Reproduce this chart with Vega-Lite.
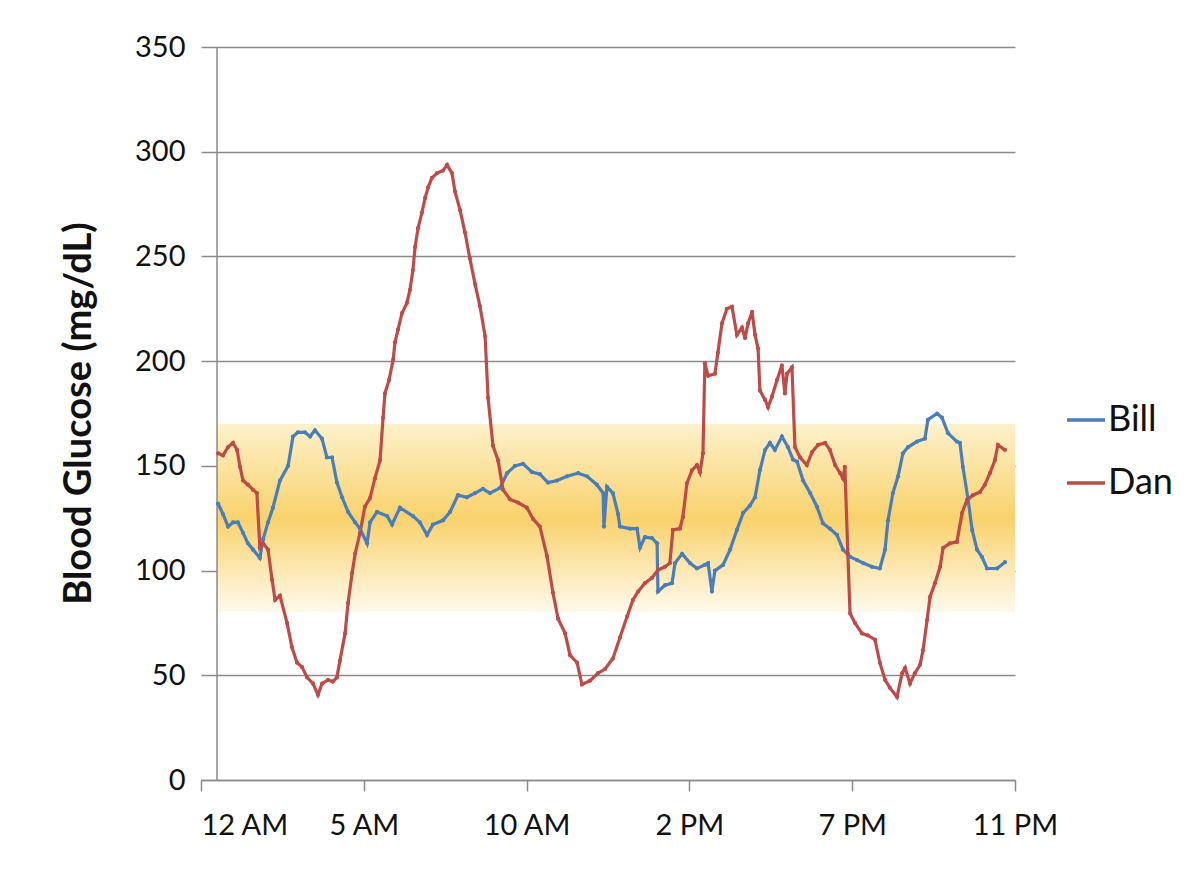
{
  "$schema": "https://vega.github.io/schema/vega-lite/v6.json",
  "width": 814,
  "height": 733,
  "autosize": {"type": "none"},
  "padding": {"left": 201, "top": 47, "right": 177, "bottom": 93},
  "background": "white",
  "config": {"view": {"stroke": null}, "font": "Lato"},
  "layer": [
    {
      "data": {"values": [{"low": 80, "high": 170}]},
      "mark": {
        "type": "rect",
        "color": {
          "gradient": "linear",
          "x1": 0, "y1": 0, "x2": 0, "y2": 1,
          "stops": [
            {"offset": 0, "color": "#fdf1cb"},
            {"offset": 0.5, "color": "#f9d26c"},
            {"offset": 1, "color": "#fffaee"}
          ]
        }
      },
      "encoding": {
        "x": {"datum": 5.9, "type": "quantitative"},
        "x2": {"datum": 300},
        "y": {"field": "high", "type": "quantitative"},
        "y2": {"field": "low"}
      }
    },
    {
      "data": {"values": [{"axis": "y"}]},
      "mark": {"type": "rule", "color": "#8a8a8a", "strokeWidth": 1.5},
      "encoding": {"x": {"datum": 5.9, "type": "quantitative"}}
    },
    {
      "data": {
        "values": [
          {"series":"Bill","sample":6.3,"glucose":132},{"series":"Bill","sample":8.1,"glucose":127},{"series":"Bill","sample":10.0,"glucose":121},{"series":"Bill","sample":11.8,"glucose":123},{"series":"Bill","sample":13.6,"glucose":123},{"series":"Bill","sample":15.5,"glucose":118},{"series":"Bill","sample":17.3,"glucose":113},{"series":"Bill","sample":19.2,"glucose":110},{"series":"Bill","sample":21.7,"glucose":106},{"series":"Bill","sample":22.9,"glucose":115},{"series":"Bill","sample":24.7,"glucose":123},{"series":"Bill","sample":26.5,"glucose":130},{"series":"Bill","sample":29.1,"glucose":143},{"series":"Bill","sample":32.1,"glucose":150},{"series":"Bill","sample":33.9,"glucose":164},{"series":"Bill","sample":35.7,"glucose":166},{"series":"Bill","sample":38.3,"glucose":166},{"series":"Bill","sample":40.2,"glucose":164},{"series":"Bill","sample":42.0,"glucose":167},{"series":"Bill","sample":44.6,"glucose":163},{"series":"Bill","sample":46.4,"glucose":154},{"series":"Bill","sample":48.3,"glucose":154},{"series":"Bill","sample":50.1,"glucose":142},{"series":"Bill","sample":52.0,"glucose":135},{"series":"Bill","sample":54.2,"glucose":128},{"series":"Bill","sample":56.8,"glucose":123},{"series":"Bill","sample":58.6,"glucose":120},{"series":"Bill","sample":61.2,"glucose":113},{"series":"Bill","sample":62.3,"glucose":123},{"series":"Bill","sample":64.9,"glucose":128},{"series":"Bill","sample":68.6,"glucose":126},{"series":"Bill","sample":70.4,"glucose":122},{"series":"Bill","sample":73.3,"glucose":130},{"series":"Bill","sample":78.1,"glucose":126},{"series":"Bill","sample":80.7,"glucose":123},{"series":"Bill","sample":83.3,"glucose":117},{"series":"Bill","sample":85.5,"glucose":122},{"series":"Bill","sample":89.2,"glucose":124},{"series":"Bill","sample":91.8,"glucose":128},{"series":"Bill","sample":94.7,"glucose":136},{"series":"Bill","sample":98.0,"glucose":135},{"series":"Bill","sample":101.0,"glucose":137},{"series":"Bill","sample":103.9,"glucose":139},{"series":"Bill","sample":106.5,"glucose":137},{"series":"Bill","sample":110.2,"glucose":139.5},{"series":"Bill","sample":112.8,"glucose":146.5},{"series":"Bill","sample":115.7,"glucose":150},{"series":"Bill","sample":118.7,"glucose":151},{"series":"Bill","sample":122.0,"glucose":147},{"series":"Bill","sample":124.9,"glucose":146},{"series":"Bill","sample":127.9,"glucose":142},{"series":"Bill","sample":131.2,"glucose":143},{"series":"Bill","sample":134.9,"glucose":145},{"series":"Bill","sample":139.0,"glucose":146.5},{"series":"Bill","sample":142.3,"glucose":145},{"series":"Bill","sample":145.9,"glucose":141},{"series":"Bill","sample":148.2,"glucose":137},{"series":"Bill","sample":148.5,"glucose":121},{"series":"Bill","sample":149.6,"glucose":140},{"series":"Bill","sample":151.8,"glucose":137},{"series":"Bill","sample":153.7,"glucose":127},{"series":"Bill","sample":154.4,"glucose":121},{"series":"Bill","sample":158.1,"glucose":120},{"series":"Bill","sample":160.7,"glucose":120},{"series":"Bill","sample":161.8,"glucose":111},{"series":"Bill","sample":163.6,"glucose":116},{"series":"Bill","sample":166.2,"glucose":115.5},{"series":"Bill","sample":168.1,"glucose":113},{"series":"Bill","sample":168.4,"glucose":90},{"series":"Bill","sample":171.0,"glucose":93},{"series":"Bill","sample":173.6,"glucose":94},{"series":"Bill","sample":174.7,"glucose":103.6},{"series":"Bill","sample":177.3,"glucose":108},{"series":"Bill","sample":180.2,"glucose":103.6},{"series":"Bill","sample":182.8,"glucose":101},{"series":"Bill","sample":185.7,"glucose":102.7},{"series":"Bill","sample":186.9,"glucose":103.6},{"series":"Bill","sample":188.3,"glucose":90},{"series":"Bill","sample":189.4,"glucose":100},{"series":"Bill","sample":192.4,"glucose":102.7},{"series":"Bill","sample":195.0,"glucose":110},{"series":"Bill","sample":197.5,"glucose":119.4},{"series":"Bill","sample":199.8,"glucose":127.5},{"series":"Bill","sample":202.3,"glucose":131},{"series":"Bill","sample":204.2,"glucose":135},{"series":"Bill","sample":206.0,"glucose":148},{"series":"Bill","sample":207.9,"glucose":157.6},{"series":"Bill","sample":209.7,"glucose":161},{"series":"Bill","sample":211.5,"glucose":157.6},{"series":"Bill","sample":214.1,"glucose":164},{"series":"Bill","sample":216.3,"glucose":159},{"series":"Bill","sample":218.2,"glucose":153},{"series":"Bill","sample":219.7,"glucose":152},{"series":"Bill","sample":221.9,"glucose":143},{"series":"Bill","sample":224.5,"glucose":137},{"series":"Bill","sample":227.0,"glucose":130.5},{"series":"Bill","sample":229.2,"glucose":122.6},{"series":"Bill","sample":231.8,"glucose":120},{"series":"Bill","sample":234.4,"glucose":117},{"series":"Bill","sample":236.6,"glucose":110},{"series":"Bill","sample":239.2,"glucose":106.6},{"series":"Bill","sample":241.8,"glucose":105},{"series":"Bill","sample":244.0,"glucose":103.6},{"series":"Bill","sample":247.3,"glucose":101.8},{"series":"Bill","sample":250.2,"glucose":101},{"series":"Bill","sample":252.1,"glucose":110},{"series":"Bill","sample":253.2,"glucose":124},{"series":"Bill","sample":255.0,"glucose":137},{"series":"Bill","sample":256.9,"glucose":145},{"series":"Bill","sample":258.7,"glucose":156},{"series":"Bill","sample":260.6,"glucose":159},{"series":"Bill","sample":263.9,"glucose":161.6},{"series":"Bill","sample":266.8,"glucose":163},{"series":"Bill","sample":267.9,"glucose":172},{"series":"Bill","sample":271.3,"glucose":175},{"series":"Bill","sample":273.1,"glucose":173},{"series":"Bill","sample":275.3,"glucose":165.6},{"series":"Bill","sample":278.6,"glucose":161.6},{"series":"Bill","sample":279.7,"glucose":161},{"series":"Bill","sample":280.8,"glucose":149.5},{"series":"Bill","sample":282.7,"glucose":134},{"series":"Bill","sample":284.2,"glucose":119.4},{"series":"Bill","sample":286.0,"glucose":110},{"series":"Bill","sample":287.8,"glucose":106.6},{"series":"Bill","sample":289.7,"glucose":101},{"series":"Bill","sample":293.4,"glucose":101},{"series":"Bill","sample":296.3,"glucose":104},
          {"series":"Dan","sample":6.3,"glucose":156},{"series":"Dan","sample":8.1,"glucose":155},{"series":"Dan","sample":10.0,"glucose":159},{"series":"Dan","sample":11.8,"glucose":161},{"series":"Dan","sample":13.3,"glucose":157.6},{"series":"Dan","sample":14.4,"glucose":149.5},{"series":"Dan","sample":15.5,"glucose":143},{"series":"Dan","sample":17.3,"glucose":141},{"series":"Dan","sample":19.2,"glucose":138.5},{"series":"Dan","sample":20.6,"glucose":137},{"series":"Dan","sample":21.7,"glucose":111},{"series":"Dan","sample":22.9,"glucose":113},{"series":"Dan","sample":24.7,"glucose":110},{"series":"Dan","sample":26.2,"glucose":95.5},{"series":"Dan","sample":27.3,"glucose":86},{"series":"Dan","sample":29.1,"glucose":88},{"series":"Dan","sample":31.7,"glucose":75},{"series":"Dan","sample":33.5,"glucose":63.5},{"series":"Dan","sample":35.4,"glucose":56},{"series":"Dan","sample":37.2,"glucose":54},{"series":"Dan","sample":39.1,"glucose":49},{"series":"Dan","sample":41.3,"glucose":46},{"series":"Dan","sample":43.1,"glucose":40.6},{"series":"Dan","sample":44.6,"glucose":46},{"series":"Dan","sample":46.8,"glucose":47.8},{"series":"Dan","sample":48.6,"glucose":47},{"series":"Dan","sample":50.1,"glucose":49},{"series":"Dan","sample":51.2,"glucose":57},{"series":"Dan","sample":53.1,"glucose":70},{"series":"Dan","sample":54.2,"glucose":84.5},{"series":"Dan","sample":55.7,"glucose":98.8},{"series":"Dan","sample":56.8,"glucose":108},{"series":"Dan","sample":58.6,"glucose":118},{"series":"Dan","sample":60.4,"glucose":130.5},{"series":"Dan","sample":62.3,"glucose":134.6},{"series":"Dan","sample":64.1,"glucose":144},{"series":"Dan","sample":66.0,"glucose":152.8},{"series":"Dan","sample":67.1,"glucose":173},{"series":"Dan","sample":67.8,"glucose":184.6},{"series":"Dan","sample":69.3,"glucose":191},{"series":"Dan","sample":70.8,"glucose":200.6},{"series":"Dan","sample":71.5,"glucose":209},{"series":"Dan","sample":72.6,"glucose":215},{"series":"Dan","sample":74.1,"glucose":223},{"series":"Dan","sample":75.9,"glucose":227.8},{"series":"Dan","sample":77.0,"glucose":234},{"series":"Dan","sample":78.1,"glucose":243.5},{"series":"Dan","sample":78.9,"glucose":254.5},{"series":"Dan","sample":80.0,"glucose":263.6},{"series":"Dan","sample":81.4,"glucose":270.8},{"series":"Dan","sample":82.6,"glucose":278},{"series":"Dan","sample":83.7,"glucose":283},{"series":"Dan","sample":85.1,"glucose":287.5},{"series":"Dan","sample":87.0,"glucose":289.8},{"series":"Dan","sample":89.2,"glucose":291},{"series":"Dan","sample":90.7,"glucose":293.7},{"series":"Dan","sample":92.5,"glucose":289.8},{"series":"Dan","sample":93.6,"glucose":281},{"series":"Dan","sample":95.5,"glucose":272},{"series":"Dan","sample":97.3,"glucose":261.4},{"series":"Dan","sample":99.1,"glucose":249},{"series":"Dan","sample":101.0,"glucose":236.8},{"series":"Dan","sample":102.8,"glucose":226.3},{"series":"Dan","sample":104.7,"glucose":212},{"series":"Dan","sample":105.8,"glucose":182.5},{"series":"Dan","sample":107.6,"glucose":159.6},{"series":"Dan","sample":109.5,"glucose":152.6},{"series":"Dan","sample":111.3,"glucose":138.6},{"series":"Dan","sample":113.9,"glucose":134},{"series":"Dan","sample":116.8,"glucose":132.5},{"series":"Dan","sample":120.1,"glucose":130},{"series":"Dan","sample":122.4,"glucose":124.6},{"series":"Dan","sample":124.9,"glucose":121},{"series":"Dan","sample":127.5,"glucose":107},{"series":"Dan","sample":129.7,"glucose":89.5},{"series":"Dan","sample":131.6,"glucose":77},{"series":"Dan","sample":134.2,"glucose":70},{"series":"Dan","sample":136.0,"glucose":59.6},{"series":"Dan","sample":138.6,"glucose":56},{"series":"Dan","sample":140.4,"glucose":45.6},{"series":"Dan","sample":143.4,"glucose":47.4},{"series":"Dan","sample":146.3,"glucose":51},{"series":"Dan","sample":148.9,"glucose":53},{"series":"Dan","sample":151.8,"glucose":58},{"series":"Dan","sample":154.4,"glucose":68},{"series":"Dan","sample":157.0,"glucose":78},{"series":"Dan","sample":159.2,"glucose":86},{"series":"Dan","sample":161.1,"glucose":90},{"series":"Dan","sample":163.6,"glucose":94},{"series":"Dan","sample":166.2,"glucose":96.5},{"series":"Dan","sample":168.4,"glucose":100.3},{"series":"Dan","sample":171.0,"glucose":101.8},{"series":"Dan","sample":172.8,"glucose":103.6},{"series":"Dan","sample":173.9,"glucose":119.4},{"series":"Dan","sample":176.5,"glucose":120},{"series":"Dan","sample":177.6,"glucose":125.6},{"series":"Dan","sample":179.1,"glucose":141.8},{"series":"Dan","sample":181.0,"glucose":148},{"series":"Dan","sample":182.8,"glucose":150.4},{"series":"Dan","sample":183.9,"glucose":147},{"series":"Dan","sample":185.0,"glucose":156},{"series":"Dan","sample":185.7,"glucose":199},{"series":"Dan","sample":186.9,"glucose":193},{"series":"Dan","sample":189.4,"glucose":194},{"series":"Dan","sample":190.5,"glucose":204},{"series":"Dan","sample":192.0,"glucose":218},{"series":"Dan","sample":193.8,"glucose":225},{"series":"Dan","sample":195.7,"glucose":226},{"series":"Dan","sample":197.5,"glucose":212.5},{"series":"Dan","sample":199.4,"glucose":216},{"series":"Dan","sample":200.5,"glucose":211},{"series":"Dan","sample":201.6,"glucose":218},{"series":"Dan","sample":203.1,"glucose":223.5},{"series":"Dan","sample":204.2,"glucose":212.5},{"series":"Dan","sample":205.3,"glucose":206},{"series":"Dan","sample":206.0,"glucose":186},{"series":"Dan","sample":207.9,"glucose":181.5},{"series":"Dan","sample":209.0,"glucose":178},{"series":"Dan","sample":210.4,"glucose":183},{"series":"Dan","sample":212.3,"glucose":191},{"series":"Dan","sample":214.1,"glucose":198},{"series":"Dan","sample":215.2,"glucose":184.6},{"series":"Dan","sample":216.0,"glucose":194},{"series":"Dan","sample":217.8,"glucose":197},{"series":"Dan","sample":218.9,"glucose":159},{"series":"Dan","sample":220.8,"glucose":154},{"series":"Dan","sample":223.3,"glucose":150.4},{"series":"Dan","sample":225.2,"glucose":156.6},{"series":"Dan","sample":227.4,"glucose":160},{"series":"Dan","sample":230.0,"glucose":161},{"series":"Dan","sample":231.8,"glucose":157.6},{"series":"Dan","sample":233.7,"glucose":150.4},{"series":"Dan","sample":235.5,"glucose":146.6},{"series":"Dan","sample":236.6,"glucose":144},{"series":"Dan","sample":237.3,"glucose":149.5},{"series":"Dan","sample":238.4,"glucose":108},{"series":"Dan","sample":239.2,"glucose":79.6},{"series":"Dan","sample":241.0,"glucose":75},{"series":"Dan","sample":243.6,"glucose":70},{"series":"Dan","sample":245.8,"glucose":69},{"series":"Dan","sample":248.4,"glucose":67},{"series":"Dan","sample":250.2,"glucose":56},{"series":"Dan","sample":252.1,"glucose":47.8},{"series":"Dan","sample":253.9,"glucose":44},{"series":"Dan","sample":256.5,"glucose":39.6},{"series":"Dan","sample":258.4,"glucose":51},{"series":"Dan","sample":259.5,"glucose":53.5},{"series":"Dan","sample":261.3,"glucose":46},{"series":"Dan","sample":263.1,"glucose":51},{"series":"Dan","sample":265.0,"glucose":55},{"series":"Dan","sample":266.1,"glucose":62},{"series":"Dan","sample":267.6,"glucose":76.4},{"series":"Dan","sample":268.7,"glucose":87.4},{"series":"Dan","sample":270.5,"glucose":94},{"series":"Dan","sample":272.4,"glucose":101.8},{"series":"Dan","sample":273.5,"glucose":110.8},{"series":"Dan","sample":276.0,"glucose":113},{"series":"Dan","sample":278.6,"glucose":113.7},{"series":"Dan","sample":280.5,"glucose":127.5},{"series":"Dan","sample":282.3,"glucose":133.7},{"series":"Dan","sample":284.5,"glucose":136},{"series":"Dan","sample":287.1,"glucose":137.5},{"series":"Dan","sample":288.9,"glucose":141},{"series":"Dan","sample":290.8,"glucose":146.6},{"series":"Dan","sample":292.6,"glucose":152.8},{"series":"Dan","sample":293.7,"glucose":160},{"series":"Dan","sample":296.3,"glucose":157.6}
        ]
      },
      "mark": {"type": "line", "strokeWidth": 3.2, "point": {"filled": true, "size": 18}},
      "encoding": {
        "x": {
          "field": "sample",
          "type": "quantitative",
          "scale": {"domain": [0, 300], "nice": false, "zero": false},
          "axis": {
            "title": null,
            "grid": false,
            "values": [0, 60, 120, 180, 240, 300],
            "labelExpr": "['12 AM','5 AM','10 AM','2 PM','7 PM','11 PM'][round(datum.value/60)]",
            "labelAlign": {"expr": "datum.value == 0 ? 'left' : 'center'"},
            "labelFlush": false,
            "labelFont": "Lato",
            "labelFontSize": 29,
            "labelColor": "#111111",
            "labelPadding": 20,
            "domainColor": "#8a8a8a",
            "domainWidth": 1.5,
            "tickColor": "#8a8a8a",
            "tickWidth": 1.5,
            "tickSize": 11
          }
        },
        "y": {
          "field": "glucose",
          "type": "quantitative",
          "scale": {"domain": [0, 350], "nice": false},
          "axis": {
            "title": "Blood Glucose (mg/dL)",
            "titleFont": "Lato",
            "titleFontSize": 38,
            "titleFontWeight": "bold",
            "titleColor": "#111111",
            "titleX": -122,
            "titleY": 366,
            "titleAngle": -90,
            "titleAlign": "center",
            "titleBaseline": "middle",
            "values": [0, 50, 100, 150, 200, 250, 300, 350],
            "domain": false,
            "ticks": false,
            "grid": true,
            "gridColor": "#8a8a8a",
            "gridWidth": 1.5,
            "labelFont": "Lato",
            "labelFontSize": 29,
            "labelColor": "#111111",
            "labelPadding": 16
          }
        },
        "color": {
          "field": "series",
          "type": "nominal",
          "scale": {"domain": ["Bill", "Dan"], "range": ["#4a7ebb", "#be4b48"]},
          "legend": {
            "title": null,
            "orient": "none",
            "legendX": 864,
            "legendY": 352,
            "labelFont": "Lato",
            "labelFontSize": 36,
            "labelColor": "#111111",
            "symbolType": "M-1,0L1,0",
            "symbolSize": 1444,
            "symbolStrokeWidth": 3.5,
            "rowPadding": 24,
            "labelOffset": 1
          }
        }
      }
    }
  ]
}
